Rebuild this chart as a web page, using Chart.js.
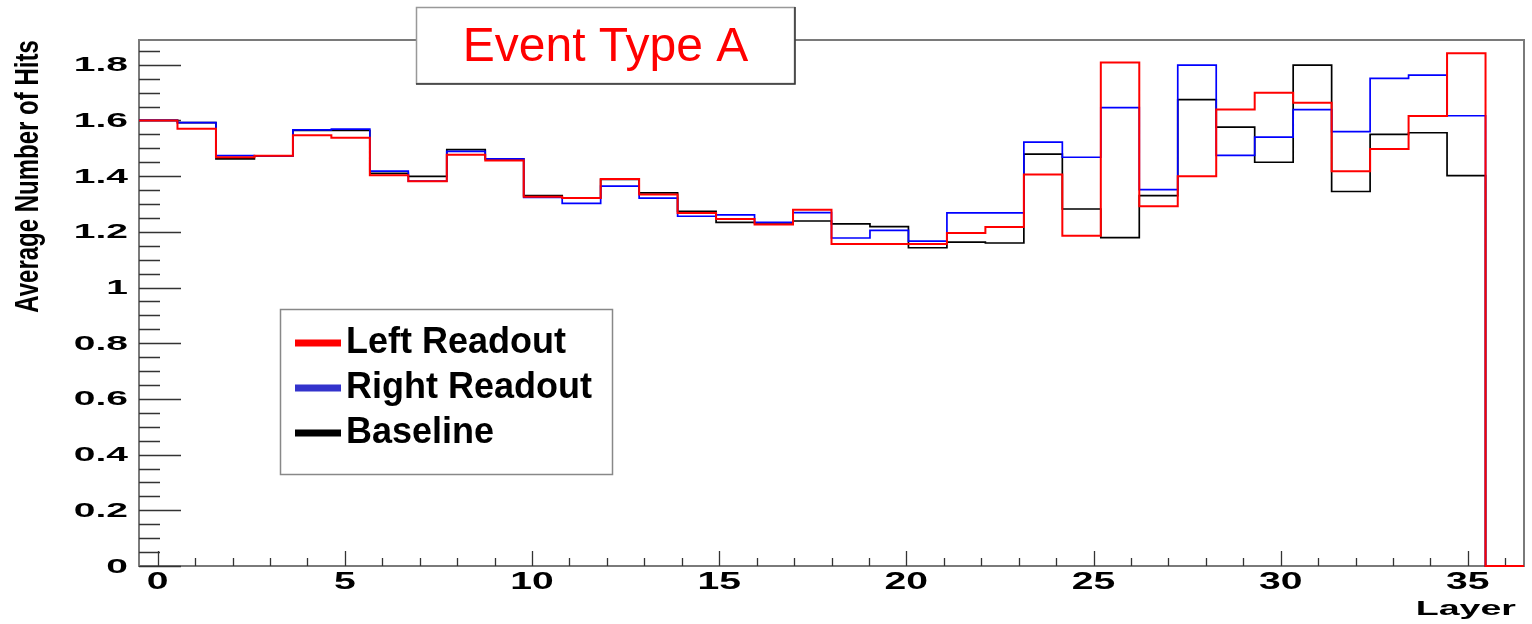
<!DOCTYPE html>
<html>
<head>
<meta charset="utf-8">
<script src="https://cdn.jsdelivr.net/npm/chart.js@4"></script>
<style>
  html, body { margin: 0; padding: 0; background: #fff; }
  canvas { display: block; }
</style>
</head>
<body>
<canvas id="hits-chart" width="1532" height="624"></canvas>
<script>
/**
 * Data
 */
const layerRange = [-0.5, 36.5];   // 36 bins spread over this range
const yMax = 1.889;

let leftReadout = [1.600, 1.570, 1.468, 1.473, 1.547, 1.538, 1.403, 1.382, 1.477, 1.456,
                   1.326, 1.322, 1.390, 1.334, 1.268, 1.246, 1.226, 1.279, 1.156, 1.156,
                   1.156, 1.196, 1.217, 1.406, 1.186, 1.808, 1.292, 1.400, 1.639, 1.700,
                   1.664, 1.418, 1.498, 1.616, 1.841, 0];
let rightReadout = [1.600, 1.592, 1.474, 1.473, 1.566, 1.569, 1.418, 1.382, 1.489, 1.462,
                    1.324, 1.302, 1.364, 1.321, 1.256, 1.261, 1.234, 1.269, 1.178, 1.205,
                    1.167, 1.268, 1.268, 1.522, 1.468, 1.646, 1.352, 1.799, 1.475, 1.540,
                    1.639, 1.560, 1.751, 1.763, 1.617, 0];
let baseline = [1.600, 1.592, 1.462, 1.473, 1.564, 1.564, 1.410, 1.399, 1.495, 1.462,
                1.330, 1.322, 1.388, 1.340, 1.274, 1.234, 1.232, 1.239, 1.229, 1.219,
                1.143, 1.163, 1.160, 1.479, 1.282, 1.179, 1.330, 1.675, 1.576, 1.450,
                1.799, 1.345, 1.550, 1.556, 1.402, 0];

let xTickLabels = ['0', '5', '10', '15', '20', '25', '30', '35'];
let yTickLabels = ['0', '0.2', '0.4', '0.6', '0.8', '1', '1.2', '1.4', '1.6', '1.8'];

const titleText = 'Event Type A';
const xTitle = 'Layer';
const yTitle = 'Average Number of Hits';

/**
 * Methods
 */
const FONT = '"Liberation Sans", Arial, sans-serif';

// histogram bins -> step points (left edge of every bin + closing right edge)
const toSteps = (values) => {
  const width = (layerRange[1] - layerRange[0]) / values.length;
  const pts = values.map((v, i) => ({ x: layerRange[0] + i * width, y: v }));
  pts.push({ x: layerRange[1], y: values[values.length - 1] });
  return pts;
};

// ROOT renders its axis text wide, so stretch it horizontally
const wideText = (ctx, text, x, y, sx, font, align, base) => {
  ctx.save();
  ctx.translate(x, y);
  ctx.scale(sx, 1);
  ctx.font = font;
  ctx.textAlign = align;
  ctx.textBaseline = base;
  ctx.fillText(text, 0, 0);
  ctx.restore();
};

const rootStyle = {
  id: 'rootStyle',
  beforeDatasetsDraw(chart) {
    const { ctx, chartArea: a, scales: { x, y } } = chart;
    ctx.save();
    ctx.strokeStyle = '#7a7a7a';
    ctx.lineWidth = 2;
    ctx.strokeRect(a.left, a.top, a.right - a.left, a.bottom - a.top);

    ctx.strokeStyle = '#333';
    ctx.lineWidth = 1.3;
    ctx.beginPath();
    for (let v = Math.ceil(x.min); v <= x.max; v++) {
      const px = Math.round(x.getPixelForValue(v)) + 0.5;
      const len = v % 5 === 0 ? 15 : 8;
      ctx.moveTo(px, a.bottom);
      ctx.lineTo(px, a.bottom - len);
    }
    for (let k = 0; k * 0.05 <= y.max; k++) {
      const py = Math.round(y.getPixelForValue(k * 0.05)) + 0.5;
      const len = k % 4 === 0 ? 42 : 21;
      ctx.moveTo(a.left, py);
      ctx.lineTo(a.left + len, py);
    }
    ctx.stroke();
    ctx.restore();
  },
  afterDraw(chart) {
    const { ctx, chartArea: a, scales: { x, y } } = chart;
    ctx.save();
    ctx.fillStyle = '#000';

    // tick labels
    yTickLabels.forEach(t => {
      wideText(ctx, t, 128, y.getPixelForValue(parseFloat(t)) + 1, 1.95, 'bold 20px ' + FONT, 'right', 'middle');
    });
    xTickLabels.forEach(t => {
      wideText(ctx, t, x.getPixelForValue(parseFloat(t)), a.bottom + 5, 1.7, 'bold 23px ' + FONT, 'center', 'top');
    });

    // axis titles
    wideText(ctx, xTitle, 1516, 615, 1.88, 'bold 20px ' + FONT, 'right', 'alphabetic');
    ctx.save();
    ctx.translate(29, (a.top + 313) / 2);
    ctx.scale(1.4, 1);
    ctx.rotate(-Math.PI / 2);
    ctx.font = 'bold 24px ' + FONT;
    ctx.textAlign = 'center';
    ctx.textBaseline = 'middle';
    ctx.fillText(yTitle, 0, 0);
    ctx.restore();

    // title box
    ctx.fillStyle = '#fff';
    ctx.fillRect(416, 7, 379, 77);
    ctx.strokeStyle = '#999';
    ctx.lineWidth = 1.5;
    ctx.strokeRect(416.5, 7.5, 378, 76);
    ctx.strokeStyle = '#333';
    ctx.beginPath();
    ctx.moveTo(795, 7); ctx.lineTo(795, 84); ctx.lineTo(416, 84);
    ctx.stroke();
    ctx.fillStyle = '#ff0000';
    ctx.font = '48px ' + FONT;
    ctx.textAlign = 'center';
    ctx.textBaseline = 'alphabetic';
    ctx.fillText(titleText, 605.5, 61);

    // legend box
    ctx.fillStyle = '#fff';
    ctx.fillRect(280, 309, 333, 166);
    ctx.strokeStyle = '#888';
    ctx.lineWidth = 1.5;
    ctx.strokeRect(280.5, 309.5, 332, 165);
    ctx.font = 'bold 36px ' + FONT;
    ctx.textAlign = 'left';
    chart.data.datasets.forEach((ds, i) => {
      const ly = 343 + i * 45;
      ctx.strokeStyle = ds.legendColor;
      ctx.lineWidth = 7;
      ctx.beginPath();
      ctx.moveTo(295, ly);
      ctx.lineTo(341, ly);
      ctx.stroke();
      ctx.fillStyle = '#000';
      ctx.fillText(ds.label, 346, ly + 10);
    });
    ctx.restore();
  }
};

const createGraphic = () => {
  const ctx = document.getElementById('hits-chart').getContext('2d');

  new Chart(ctx, {
    type: 'line',
    data: {
      datasets: [
        {
          label: 'Left Readout',
          data: toSteps(leftReadout),
          borderColor: '#ff0000',
          legendColor: '#ff0000',
          borderWidth: 2,
          stepped: 'before',
          clip: 3,
          fill: false
        },
        {
          label: 'Right Readout',
          data: toSteps(rightReadout),
          borderColor: '#0000ff',
          legendColor: '#3333cc',
          borderWidth: 1.7,
          stepped: 'before',
          clip: 3,
          fill: false
        },
        {
          label: 'Baseline',
          data: toSteps(baseline),
          borderColor: '#000000',
          legendColor: '#000000',
          borderWidth: 1.7,
          stepped: 'before',
          clip: 3,
          fill: false
        }
      ]
    },
    options: {
      responsive: false,
      animation: false,
      layout: { padding: { left: 139, top: 40, right: 8, bottom: 58 } },
      elements: { point: { radius: 0 } },
      plugins: {
        legend: { display: false },
        tooltip: { enabled: false }
      },
      scales: {
        x: { type: 'linear', display: false, min: layerRange[0], max: layerRange[1] },
        y: { display: false, min: 0, max: yMax }
      }
    },
    plugins: [rootStyle]
  });
};

/**
 * Events
 */
document.addEventListener("DOMContentLoaded", () => {
  createGraphic();
});
</script>
</body>
</html>
